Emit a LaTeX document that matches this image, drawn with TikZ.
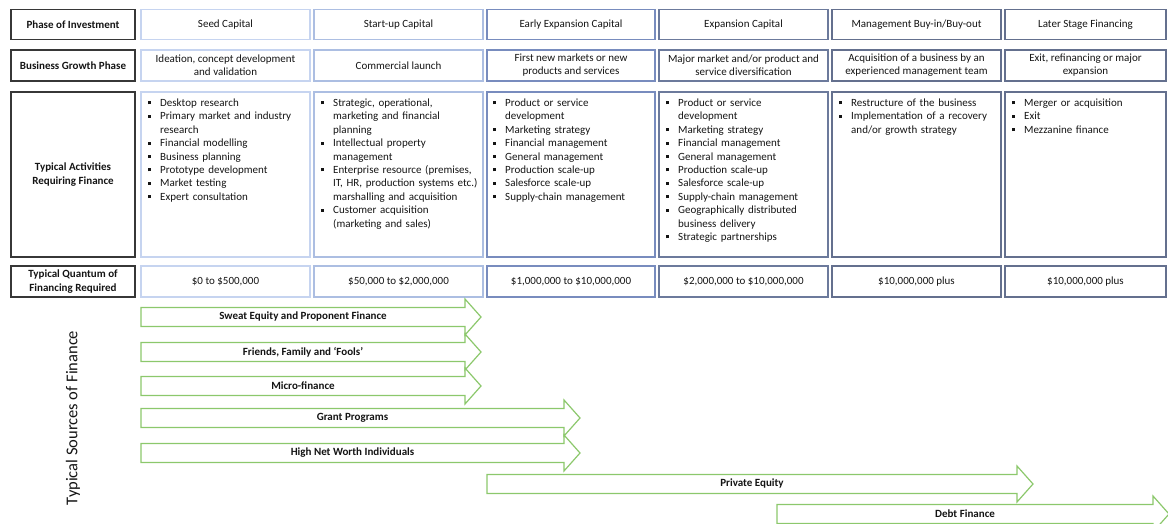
\documentclass[tikz,border=0pt]{standalone}
\usepackage{fontspec}
\setmainfont{Carlito}
\definecolor{lblc}{RGB}{55,55,55}
\definecolor{c1}{RGB}{198,212,240}
\definecolor{c2}{RGB}{172,190,226}
\definecolor{c3}{RGB}{120,140,190}
\definecolor{c4}{RGB}{108,122,156}
\definecolor{c5}{RGB}{100,112,142}
\definecolor{c6}{RGB}{100,112,142}
\definecolor{arrg}{RGB}{140,200,108}
\definecolor{txt}{RGB}{20,20,20}
\newcommand{\sqb}{\rule{0pt}{9pt}\makebox[12pt][l]{\raisebox{2.2pt}{\rule{3pt}{3pt}}}}
\newcommand{\itm}[1]{\par\hangindent=12pt\hangafter=1\noindent\sqb #1\par}
\tikzset{
  lbl/.style={draw=lblc, line width=1.4pt, minimum width=124pt, inner sep=2pt, align=center, font=\fontsize{11}{13.8}\selectfont\bfseries, text=txt},
  cell/.style={draw=#1, line width=1.3pt, minimum width=169pt, inner sep=2pt, align=center, font=\fontsize{11}{13}\selectfont, text=txt},
  acts/.style={anchor=north west, inner sep=0pt, text width=175pt, font=\fontsize{11}{13.4}\selectfont, text=txt},
  finarrow/.style={draw=arrg, line width=1.2pt, fill=white},
  arrlbl/.style={font=\fontsize{11}{13}\selectfont\bfseries, text=txt},
}
\newcommand{\finarr}[6]{%
  \draw[finarrow] (#1,#4-9.5) -- (#2,#4-9.5) -- (#2,#4-18) -- (#3,#4) -- (#2,#4+18) -- (#2,#4+9.5) -- (#1,#4+9.5) -- cycle;
  \node[arrlbl] (#5) at ({(#1+#2)/2},#4) {#6};}
\begin{document}
\begin{tikzpicture}[x=1pt,y=-1pt]
\useasboundingbox (0,0) rectangle (1168,524);
\def\ha{30pt}\def\hb{31pt}\def\hc{165pt}\def\hd{31pt}
% labels column
\node[lbl, minimum height=\ha] (l1) at (73,24.5) {Phase of Investment};
\node[lbl, minimum height=\hb] (l2) at (73,65.5) {Business Growth Phase};
\node[lbl, minimum height=\hc] (l3) at (73,174.5) {Typical Activities\\Requiring Finance};
\node[lbl, minimum height=\hd] (l4) at (73,281.5) {Typical Quantum of\\Financing Required};
% row 1
\node[cell=c1, minimum height=\ha] (p1) at (225.5,24.5) {Seed Capital};
\node[cell=c2, minimum height=\ha] (p2) at (398.5,24.5) {Start-up Capital};
\node[cell=c3, minimum height=\ha, minimum width=168pt] (p3) at (571,24.5) {Early Expansion Capital};
\node[cell=c4, minimum height=\ha] (p4) at (743.5,24.5) {Expansion Capital};
\node[cell=c5, minimum height=\ha] (p5) at (916.5,24.5) {Management Buy-in/Buy-out};
\node[cell=c6, minimum height=\ha, minimum width=161pt] (p6) at (1085.5,24.5) {Later Stage Financing};
% row 2
\node[cell=c1, minimum height=\hb] (g1) at (225.5,65.5) {Ideation, concept development\\and validation};
\node[cell=c2, minimum height=\hb] (g2) at (398.5,65.5) {Commercial launch};
\node[cell=c3, minimum height=\hb, minimum width=168pt] (g3) at (571,65.5) {First new markets or new\\products and services};
\node[cell=c4, minimum height=\hb] (g4) at (743.5,65.5) {Major market and/or product and\\service diversification};
\node[cell=c5, minimum height=\hb] (g5) at (916.5,65.5) {Acquisition of a business by an\\experienced management team};
\node[cell=c6, minimum height=\hb, minimum width=161pt] (g6) at (1085.5,65.5) {Exit, refinancing or major\\expansion};
% row 3 boxes
\node[cell=c1, minimum height=\hc] (a1) at (225.5,174.5) {};
\node[cell=c2, minimum height=\hc] (a2) at (398.5,174.5) {};
\node[cell=c3, minimum height=\hc, minimum width=168pt] (a3) at (571,174.5) {};
\node[cell=c4, minimum height=\hc] (a4) at (743.5,174.5) {};
\node[cell=c5, minimum height=\hc] (a5) at (916.5,174.5) {};
\node[cell=c6, minimum height=\hc, minimum width=161pt] (a6) at (1085.5,174.5) {};
% row 3 texts
\node[acts] (t1) at (148,93) {\raggedright\itm{Desktop research}\itm{Primary market and industry\newline research}\itm{Financial modelling}\itm{Business planning}\itm{Prototype development}\itm{Market testing}\itm{Expert consultation}};
\node[acts] (t2) at (321,93) {\raggedright\itm{Strategic, operational,\newline marketing and financial\newline planning}\itm{Intellectual property\newline management}\itm{Enterprise resource (premises,\newline IT, HR, production systems etc.)\newline marshalling and acquisition}\itm{Customer acquisition\newline (marketing and sales)}};
\node[acts] (t3) at (493,93) {\raggedright\itm{Product or service\newline development}\itm{Marketing strategy}\itm{Financial management}\itm{General management}\itm{Production scale-up}\itm{Salesforce scale-up}\itm{Supply-chain management}};
\node[acts] (t4) at (666,93) {\raggedright\itm{Product or service\newline development}\itm{Marketing strategy}\itm{Financial management}\itm{General management}\itm{Production scale-up}\itm{Salesforce scale-up}\itm{Supply-chain management}\itm{Geographically distributed\newline business delivery}\itm{Strategic partnerships}};
\node[acts] (t5) at (839,93) {\raggedright\itm{Restructure of the business}\itm{Implementation of a recovery\newline and/or growth strategy}};
\node[acts, text width=155pt] (t6) at (1012,93) {\raggedright\itm{Merger or acquisition}\itm{Exit}\itm{Mezzanine finance}};
% row 4
\node[cell=c1, minimum height=\hd] (q1) at (225.5,281.5) {\$0 to \$500,000};
\node[cell=c2, minimum height=\hd] (q2) at (398.5,281.5) {\$50,000 to \$2,000,000};
\node[cell=c3, minimum height=\hd, minimum width=168pt] (q3) at (571,281.5) {\$1,000,000 to \$10,000,000};
\node[cell=c4, minimum height=\hd] (q4) at (743.5,281.5) {\$2,000,000 to \$10,000,000};
\node[cell=c5, minimum height=\hd] (q5) at (916.5,281.5) {\$10,000,000 plus};
\node[cell=c6, minimum height=\hd, minimum width=161pt] (q6) at (1085.5,281.5) {\$10,000,000 plus};
% vertical label
\node[rotate=90, font=\fontsize{16.5}{18}\selectfont, text=txt] (src) at (73,418) {Typical Sources of Finance};
% finance arrows
\finarr{141}{465}{481}{317}{f1}{Sweat Equity and Proponent Finance}
\finarr{141}{465}{481}{352}{f2}{Friends, Family and ‘Fools’}
\finarr{141}{465}{481}{386}{f3}{Micro-finance}
\finarr{141}{564}{580}{418}{f4}{Grant Programs}
\finarr{141}{564}{580}{453}{f5}{High Net Worth Individuals}
\finarr{487}{1017}{1033}{484}{f6}{Private Equity}
\finarr{777}{1153}{1169}{514}{f7}{Debt Finance}
\end{tikzpicture}
\end{document}
